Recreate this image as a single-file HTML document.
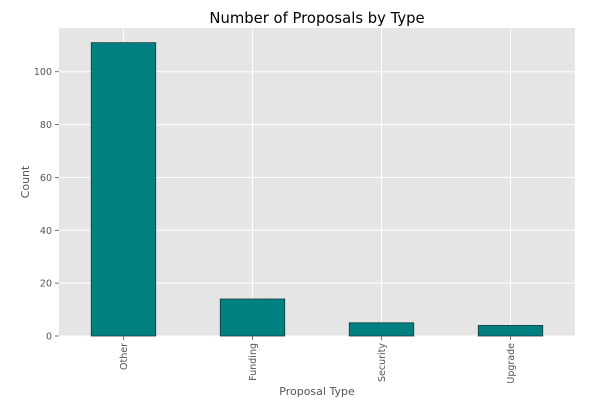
<!DOCTYPE html>
<html><head><meta charset="utf-8"><style>
html,body{margin:0;padding:0;background:#fff;}
svg{display:block;font-family:"DejaVu Sans","Liberation Sans",sans-serif;}
</style></head><body>
<svg id="chart" width="615" height="400" viewBox="0 0 615 400">
<rect x="0" y="0" width="615" height="400" fill="#fff"/>
<text x="317" y="23" text-anchor="middle" font-size="14.8" fill="#000">Number of Proposals by Type</text>
<g id="plot"></g>
<text x="317" y="395" text-anchor="middle" font-size="11" fill="#555">Proposal Type</text>
<text transform="translate(29,182) rotate(-90)" text-anchor="middle" font-size="11" fill="#555">Count</text>
</svg>
<script>
const categories = ["Other","Funding","Security","Upgrade"];
const counts = [111,14,5,4];
const yTicks = [0,20,40,60,80,100];

const L=59,R=575,T=28,B=336,yMax=116.55;
const ns="http://www.w3.org/2000/svg";
const g=document.getElementById('plot');
function y(v){return B-(v/yMax)*(B-T);}
const band=(R-L)/categories.length;
function xc(i){return L+band*(i+0.5);}
function mk(tag,attrs,parent){const e=document.createElementNS(ns,tag);for(const k in attrs)e.setAttribute(k,attrs[k]);(parent||g).appendChild(e);return e;}

const bg=mk('rect',{x:L,y:T,width:R-L,height:B-T,fill:'#e5e5e5'});



yTicks.forEach(t=>{
  const gl=mk('line',{x1:L,x2:R,y1:y(t),y2:y(t),stroke:'#fff','stroke-width':1});
  
  
  const tk=mk('line',{x1:L-4,x2:L,y1:y(t),y2:y(t),stroke:'#555','stroke-width':0.8});
  
  
  const lb=mk('text',{x:L-7,y:y(t)+3.5,'text-anchor':'end','font-size':9.5,fill:'#555'});
  lb.textContent=t;
  
  
});
categories.forEach((c,i)=>{
  const gl=mk('line',{x1:xc(i),x2:xc(i),y1:T,y2:B,stroke:'#fff','stroke-width':1});
  
  
});
categories.forEach((c,i)=>{
  const w=band*0.5;
  const b=mk('rect',{x:xc(i)-w/2,y:y(counts[i]),width:w,height:B-y(counts[i]),fill:'#008080',stroke:'#1a3a3a','stroke-width':0.8});
  
  
  const tk=mk('line',{x1:xc(i),x2:xc(i),y1:B,y2:B+4,stroke:'#555','stroke-width':0.8});
  
  
  const lb=mk('text',{transform:`translate(${xc(i)+3.3},${B+7}) rotate(-90)`,'text-anchor':'end','font-size':9.5,fill:'#555'});
  lb.textContent=c;
  
  
});
</script>
</body></html>
